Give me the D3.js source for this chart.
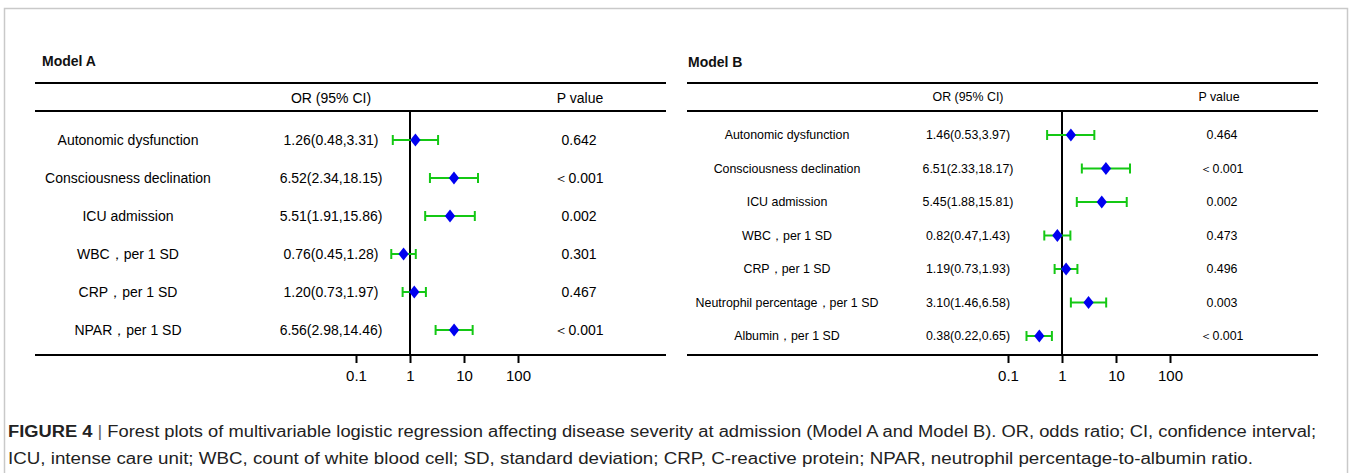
<!DOCTYPE html>
<html><head><meta charset="utf-8">
<script src="https://cdn.jsdelivr.net/npm/d3@7"></script>
<style>
html,body{margin:0;padding:0;background:#fff;}
svg{display:block;font-family:"Liberation Sans",Arial,sans-serif;}
</style></head>
<body><svg id="c" width="1352" height="473"></svg>
<script>
// ---------- DATA ----------
const labelsA = ["Autonomic dysfunction","Consciousness declination","ICU admission","WBC，per 1 SD","CRP，per 1 SD","NPAR，per 1 SD"];
const orA  = [1.26, 6.52, 5.51, 0.76, 1.20, 6.56];
const loA  = [0.48, 2.34, 1.91, 0.45, 0.73, 2.98];
const hiA  = [3.31, 18.15, 15.86, 1.28, 1.97, 14.46];
const orTextA = ["1.26(0.48,3.31)","6.52(2.34,18.15)","5.51(1.91,15.86)","0.76(0.45,1.28)","1.20(0.73,1.97)","6.56(2.98,14.46)"];
const pA = ["0.642","＜0.001","0.002","0.301","0.467","＜0.001"];

const labelsB = ["Autonomic dysfunction","Consciousness declination","ICU admission","WBC，per 1 SD","CRP，per 1 SD","Neutrophil percentage，per 1 SD","Albumin，per 1 SD"];
const orB  = [1.46, 6.51, 5.45, 0.82, 1.19, 3.10, 0.38];
const loB  = [0.53, 2.33, 1.88, 0.47, 0.73, 1.46, 0.22];
const hiB  = [3.97, 18.17, 15.81, 1.43, 1.93, 6.58, 0.65];
const orTextB = ["1.46(0.53,3.97)","6.51(2.33,18.17)","5.45(1.88,15.81)","0.82(0.47,1.43)","1.19(0.73,1.93)","3.10(1.46,6.58)","0.38(0.22,0.65)"];
const pB = ["0.464","＜0.001","0.002","0.473","0.496","0.003","＜0.001"];

const tickValues = [0.1, 1, 10, 100];
const tickLabels = ["0.1","1","10","100"];
const titles = ["Model A","Model B"];
const headers = ["OR (95% CI)","P value"];
const caption1 = "Forest plots of multivariable logistic regression affecting disease severity at admission (Model A and Model B). OR, odds ratio; CI, confidence interval;";
const caption2 = "ICU, intense care unit; WBC, count of white blood cell; SD, standard deviation; CRP, C-reactive protein; NPAR, neutrophil percentage-to-albumin ratio.";

// ---------- DRAW ----------
const svg = d3.select("#c");
svg.append("rect").attr("x",4.5).attr("y",8.5).attr("width",1343).attr("height",480)
  .attr("fill","none").attr("stroke","#c9c9c9").attr("stroke-width",1.5);

const GREEN = "#14c814", BLUE = "#0000f0";

function panel(cfg){
  const g = svg.append("g");
  const n = cfg.labels.length;
  const x = d3.scaleLog().domain([0.1,100]).range(cfg.xr);
  const y = d3.scalePoint().domain(d3.range(n)).range(cfg.yr);
  g.append("text").attr("x",cfg.titleX).attr("y",cfg.titleY).attr("font-weight","bold")
    .attr("font-size",14).attr("fill","#111").text(cfg.title);
  [cfg.topY, cfg.headY].forEach(yy=>g.append("line").attr("x1",cfg.left).attr("x2",cfg.right)
    .attr("y1",yy).attr("y2",yy).attr("stroke","#000").attr("stroke-width",2));
  g.append("text").attr("x",cfg.orX).attr("y",cfg.headTextY).attr("text-anchor","middle")
    .attr("font-size",cfg.fs).text(headers[0]);
  g.append("text").attr("x",cfg.pHX).attr("y",cfg.headTextY).attr("text-anchor","middle")
    .attr("font-size",cfg.fs).text(headers[1]);
  const axis = d3.axisBottom(x).tickValues(tickValues).tickSize(8).tickPadding(7)
    .tickFormat((d,i)=>tickLabels[i]);
  const ag = g.append("g").attr("transform",`translate(0,${cfg.axisY})`).call(axis);
  ag.select(".domain").remove();
  ag.selectAll(".tick line").attr("stroke","#000").attr("stroke-width",2);
  ag.selectAll(".tick text").attr("font-size",15).attr("fill","#000")
    .attr("font-family","Liberation Sans, Arial, sans-serif");
  g.append("line").attr("x1",cfg.left).attr("x2",cfg.right).attr("y1",cfg.axisY).attr("y2",cfg.axisY)
    .attr("stroke","#000").attr("stroke-width",2);
  g.append("line").attr("x1",x(1)).attr("x2",x(1)).attr("y1",cfg.headY).attr("y2",cfg.axisY)
    .attr("stroke","#000").attr("stroke-width",2);
  const rows = g.selectAll(".row").data(d3.range(n)).join("g").attr("class","row");
  rows.append("text").attr("x",cfg.labX).attr("y",i=>y(i)+cfg.fs*0.36).attr("text-anchor","middle")
    .attr("font-size",cfg.fs).text(i=>cfg.labels[i]);
  rows.append("text").attr("x",cfg.orX).attr("y",i=>y(i)+cfg.fs*0.36).attr("text-anchor","middle")
    .attr("font-size",cfg.fs).text(i=>cfg.orText[i]);
  rows.append("text").attr("x",cfg.pX).attr("y",i=>y(i)+cfg.fs*0.36).attr("text-anchor","middle")
    .attr("font-size",cfg.fs).text(i=>cfg.p[i]);
  const cap = 5;
  rows.append("line").attr("x1",i=>x(cfg.lo[i])).attr("x2",i=>x(cfg.hi[i]))
    .attr("y1",i=>y(i)).attr("y2",i=>y(i)).attr("stroke",GREEN).attr("stroke-width",2);
  rows.append("line").attr("x1",i=>x(cfg.lo[i])).attr("x2",i=>x(cfg.lo[i]))
    .attr("y1",i=>y(i)-cap).attr("y2",i=>y(i)+cap).attr("stroke",GREEN).attr("stroke-width",2);
  rows.append("line").attr("x1",i=>x(cfg.hi[i])).attr("x2",i=>x(cfg.hi[i]))
    .attr("y1",i=>y(i)-cap).attr("y2",i=>y(i)+cap).attr("stroke",GREEN).attr("stroke-width",2);
  const sym = d3.symbol().type(d3.symbolDiamond).size(50);
  rows.append("path").attr("d",sym)
    .attr("transform",i=>`translate(${x(cfg.or[i])},${y(i)}) scale(1.35,1)`).attr("fill",BLUE);
}

panel({title:titles[0],labels:labelsA,or:orA,lo:loA,hi:hiA,orText:orTextA,p:pA,
  left:35,right:666,titleX:42,titleY:66,topY:83,headY:111,axisY:355,headTextY:103,
  xr:[356,518],yr:[140,330],labX:128,orX:331,pX:579,pHX:580,fs:14});
panel({title:titles[1],labels:labelsB,or:orB,lo:loB,hi:hiB,orText:orTextB,p:pB,
  left:687,right:1318,titleX:688,titleY:67,topY:83,headY:111,axisY:355,headTextY:101,
  xr:[1008,1170],yr:[135,336],labX:787,orX:968,pX:1222,pHX:1219,fs:12.4});

const cap = svg.append("g").attr("font-size",16).attr("fill","#222");
const t1 = cap.append("text").attr("x",8).attr("y",437).attr("textLength",1308).attr("lengthAdjust","spacingAndGlyphs");
t1.append("tspan").attr("font-weight","bold").text("FIGURE 4");
t1.append("tspan").attr("fill","#666").text(" | ");
t1.append("tspan").text(caption1);
cap.append("text").attr("x",8).attr("y",464).attr("textLength",1245).attr("lengthAdjust","spacingAndGlyphs").text(caption2);
</script></body></html>
